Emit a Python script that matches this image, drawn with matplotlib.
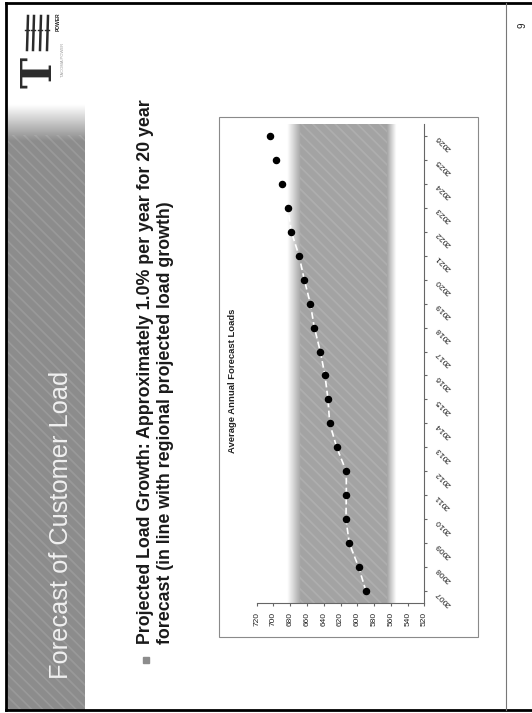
import numpy as np
import matplotlib
matplotlib.use('Agg')
import matplotlib.pyplot as plt
from matplotlib.patches import Rectangle

plt.rcParams['font.family'] = ['Liberation Sans', 'DejaVu Sans']
plt.rcParams['hatch.linewidth'] = 1.2

# average annual forecast load per year
years = ['2007', '2008', '2009', '2010', '2011', '2012', '2013', '2014', '2015', '2016',
         '2017', '2018', '2019', '2020', '2021', '2022', '2023', '2024', '2025', '2026']
loads = [589.7, 598.4, 609.6, 613.6, 613.2, 613.2, 624.6, 633.0, 635.0, 638.6,
         644.2, 651.3, 656.1, 663.3, 669.6, 678.8, 683.0, 689.5, 697.0, 704.1]
load_ticks = [520, 540, 560, 580, 600, 620, 640, 660, 680, 700, 720]

slide_title = 'Forecast of Customer Load'
bullet_lines = ['Projected Load Growth: Approximately 1.0% per year for 20 year',
                'forecast (in line with regional projected load growth)']
chart_title = 'Average Annual Forecast Loads'

W, H = 532, 713
fig = plt.figure(figsize=(W / 100, H / 100), dpi=100)

# page layer in pixel coordinates (slide is turned on its side)
bg = fig.add_axes([0, 0, 1, 1])
bg.axis('off')

# title bar, fading out towards the top
ys = np.linspace(100, 710, 400)
bar = np.zeros((len(ys), 1, 4))
bar[..., :3] = 0.55
bar[..., 3] = np.clip((ys - 104) / 36, 0, 1)[:, None]
bg.imshow(bar, extent=(7, 85, 710, 100), aspect='auto', interpolation='bilinear', zorder=1)
bg.add_patch(Rectangle((7, 135), 78, 575, facecolor='none', edgecolor=(1, 1, 1, 0.12),
                       hatch='\\\\\\', lw=0, zorder=2))
bg.text(61, 679, slide_title, rotation=90, rotation_mode='anchor', ha='left', va='center',
        fontsize=18.3, color='#f0f0f0', zorder=3)

# logo
bg.text(39, 72, 'T', rotation=90, ha='center', va='center', fontsize=30,
        family='DejaVu Serif', weight='bold', color='#2b2b2b', zorder=3)
for lx in [27, 33, 40, 47]:
    bg.plot([lx, lx + 1], [50, 16], color='#2b2b2b', lw=1.8, zorder=3)
    bg.plot([lx - 2, lx + 2], [30, 30], color='#2b2b2b', lw=1.0, zorder=3)
bg.text(58, 22, 'POWER', rotation=90, ha='center', va='center', fontsize=3.5,
        weight='bold', color='#222222', zorder=3)
bg.text(63, 60, 'TACOMA POWER', rotation=90, ha='center', va='center', fontsize=3,
        color='#9a9a9a', zorder=3)

# bullet
bg.add_patch(Rectangle((143, 657), 6, 6, color='#8c8c8c', zorder=3))
for bx, line in zip([146, 166], bullet_lines):
    bg.text(bx, 643.5, line, rotation=90, rotation_mode='anchor', ha='left', va='center',
            fontsize=12.8, weight='bold', color='#1a1a1a', zorder=3)

# chart area box and chart title
bg.add_patch(Rectangle((219, 117), 259, 520, fill=False, ec='#8a8a8a', lw=0.8, zorder=3))
bg.text(232.5, 381, chart_title, rotation=90, ha='center', va='center', fontsize=6.8,
        weight='bold', color='#222222', zorder=3)

# page frame, footer rule and page number
bg.plot([6, 6], [3, 710], color='black', lw=2, zorder=4)
bg.plot([6, W], [3, 3], color='black', lw=2, zorder=4)
bg.plot([6, W], [710, 710], color='black', lw=2, zorder=4)
bg.plot([506, 506], [3, 710], color='#777777', lw=0.8, zorder=4)
bg.text(522.6, 25.5, '9', rotation=90, ha='center', va='center', fontsize=7, color='#222222')

bg.set_xlim(0, W)
bg.set_ylim(H, 0)

# the chart itself: load runs right-to-left, years bottom-to-top
ax = fig.add_axes([256.7 / W, 1 - 603.3 / H, 167.8 / W, 479.6 / H])
ax.set_facecolor('none')

vals = np.linspace(720, 520, 400)
band = np.zeros((1, len(vals), 4))
band[..., :3] = 0.64
band[..., 3] = np.clip((684 - vals) / 16, 0, 1) * np.clip((vals - 554) / 11, 0, 1)
ax.imshow(band, extent=(720, 520, -0.5, 19.5), aspect='auto', interpolation='bilinear', zorder=0)
ax.add_patch(Rectangle((668, -0.5), 565 - 668, 20, facecolor='none', edgecolor=(1, 1, 1, 0.13),
                       hatch='\\\\\\', lw=0, zorder=1))

idx = np.arange(len(years))
ax.plot(loads, idx, color='white', lw=1.2, ls=(0, (4, 2)), zorder=2)
ax.plot(loads, idx, 'o', ms=4.4, color='black', zorder=3)

ax.set_xlim(720, 520)
ax.set_ylim(-0.5, 19.5)

for side in ['left', 'top']:
    ax.spines[side].set_visible(False)
for side in ['bottom', 'right']:
    ax.spines[side].set_color('#666666')
    ax.spines[side].set_linewidth(0.8)

ax.set_xticks(load_ticks)
ax.set_xticklabels([str(v) for v in load_ticks], rotation=90, fontsize=6, color='#222222')
ax.tick_params(axis='x', length=2, pad=4.5, color='#666666')

ax.yaxis.tick_right()
ax.set_yticks(idx)
ax.set_yticklabels(years, rotation=135, rotation_mode='anchor', ha='right', va='center',
                   fontsize=6, color='#222222')
ax.tick_params(axis='y', length=2, pad=7, color='#666666')

fig.savefig('out.png', dpi=100)
